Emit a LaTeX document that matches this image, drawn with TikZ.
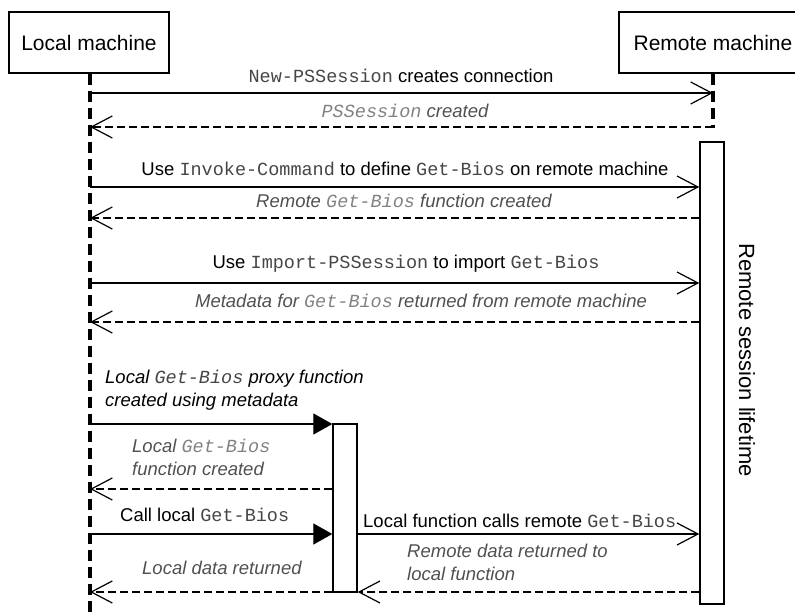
\documentclass[tikz,border=0pt]{standalone}
\usepackage{fontspec}
\setmainfont{Liberation Sans}
\setmonofont{Liberation Mono}
\usetikzlibrary{arrows.meta,positioning}
\definecolor{codegrey}{RGB}{70,70,70}
\definecolor{replygrey}{RGB}{80,80,80}
\definecolor{replycode}{RGB}{130,130,130}
\newcommand{\cmd}[1]{{\ttfamily\color{codegrey}#1}}
\newcommand{\rcmd}[1]{{\ttfamily\itshape\color{replycode}#1}}

\begin{document}
\begin{tikzpicture}[x=1pt,y=-1pt,
    machine/.style={draw,line width=1.2pt,minimum width=#1,minimum height=61,
      inner sep=0,font=\fontsize{21}{25}\selectfont},
    lifeline/.style={line width=3.2pt,dash pattern=on 11pt off 6pt},
    actbox/.style={draw,line width=1.4pt,fill=white,minimum width=24,inner sep=0},
    call/.style={line width=1.3pt,-{Straight Barb[length=21pt,width=22pt,line width=1.2pt]}},
    selfcall/.style={line width=1.3pt,-{Triangle[length=19pt,width=21pt]}},
    reply/.style={line width=2pt,dash pattern=on 8pt off 4pt,
      -{Straight Barb[length=21pt,width=22pt,line width=1.2pt]}},
    msg/.style={font=\fontsize{18.5}{23}\selectfont,inner sep=0,anchor=base},
    replymsg/.style={msg,font=\fontsize{18.5}{23}\selectfont\itshape,text=replygrey}]
  \useasboundingbox (0,0) rectangle (795,612);
  \clip (0,0) rectangle (795,612);
  % participants
  \node[machine=160] (local) at (89,42.5) {Local machine};
  \node[machine=188] (remote) at (713,42.5) {Remote machine};
  \coordinate (lbot) at (90,612);
  \coordinate (rbot) at (713,128);
  \draw[lifeline] (local.south -| lbot) -- (lbot);
  \draw[lifeline] (remote.south -| rbot) -- (rbot);
  % activations
  \node[actbox,minimum height=462] (remoteact) at (712,373) {};
  \node[actbox,minimum height=168] (localact) at (345,508) {};
  \node[rotate=-90,font=\fontsize{22}{26}\selectfont] (lifetime) at (747,360)
    {Remote session lifetime};
  % message rows
  \foreach \n/\y in {1/93,2/127,3/187,4/218,5/283,6/322,7/424,8/489,9/534,10/592}
    \coordinate (row\n) at (0,\y);
  % connection
  \draw[call] (lbot |- row1) -- (rbot |- row1);
  \node[msg] (m1) at (401,83) {\cmd{New-PSSession} creates connection};
  \draw[reply] (rbot |- row2) -- (lbot |- row2);
  \node[replymsg] (m2) at (405,118) {\rcmd{PSSession} created};
  % define function remotely
  \draw[call] (lbot |- row3) -- (remoteact.west |- row3);
  \node[msg] (m3) at (405,176)
    {Use \cmd{Invoke-Command} to define \cmd{Get-Bios} on remote machine};
  \draw[reply] (remoteact.west |- row4) -- (lbot |- row4);
  \node[replymsg] (m4) at (404,208) {Remote \rcmd{Get-Bios} function created};
  % import
  \draw[call] (lbot |- row5) -- (remoteact.west |- row5);
  \node[msg] (m5) at (406,269) {Use \cmd{Import-PSSession} to import \cmd{Get-Bios}};
  \draw[reply] (remoteact.west |- row6) -- (lbot |- row6);
  \node[replymsg] (m6) at (421,308)
    {Metadata for \rcmd{Get-Bios} returned from remote machine};
  % local proxy
  \node[msg,anchor=base west,align=left,font=\fontsize{18.5}{23}\selectfont\itshape]
    (m7) at (105,406) {Local {\ttfamily\color{codegrey}Get-Bios} proxy function\\
    created using metadata};
  \draw[selfcall] (lbot |- row7) -- (localact.west |- row7);
  \draw[reply] (localact.west |- row8) -- (lbot |- row8);
  \node[replymsg,anchor=base west,align=left] (m8) at (132,475)
    {Local \rcmd{Get-Bios}\\function created};
  % call
  \draw[selfcall] (lbot |- row9) -- (localact.west |- row9);
  \node[msg,anchor=base west] (m9) at (120,521) {Call local \cmd{Get-Bios}};
  \draw[call] (localact.east |- row9) -- (remoteact.west |- row9);
  \node[msg,anchor=base west] (m10) at (363,527)
    {Local function calls remote \cmd{Get-Bios}};
  \draw[reply] (remoteact.west |- row10) -- (localact.east |- row10);
  \node[replymsg,anchor=base west,align=left] (m11) at (407,580)
    {Remote data returned to\\local function};
  \draw[reply] (localact.west |- row10) -- (lbot |- row10);
  \node[replymsg,anchor=base west] (m12) at (142,574) {Local data returned};
\end{tikzpicture}
\end{document}
